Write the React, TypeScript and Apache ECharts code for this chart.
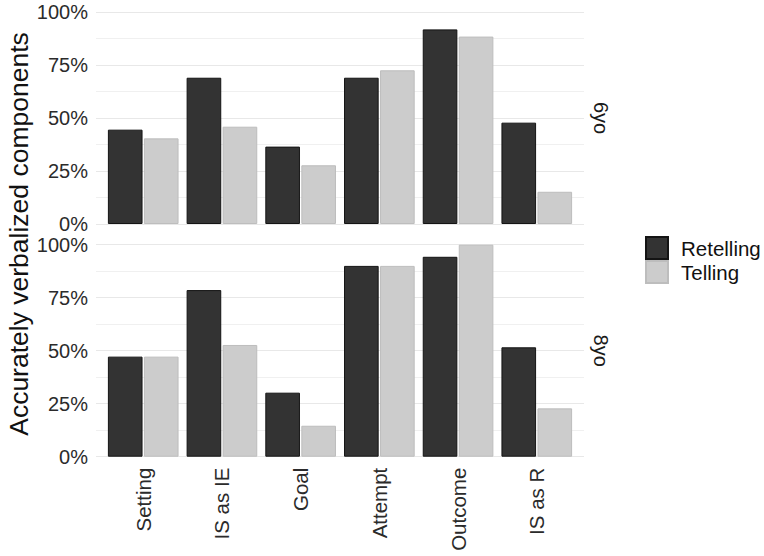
import React, { useEffect, useRef } from "react";
import * as echarts from "echarts";

const categories = ["Setting", "IS as IE", "Goal", "Attempt", "Outcome", "IS as R"];
const panels = ["6yo", "8yo"];
const seriesNames = ["Retelling", "Telling"];
const retelling6 = [0.445, 0.69, 0.365, 0.69, 0.918, 0.478];
const telling6 = [0.404, 0.459, 0.277, 0.725, 0.884, 0.152];
const retelling8 = [0.472, 0.786, 0.302, 0.9, 0.943, 0.516];
const telling8 = [0.472, 0.527, 0.146, 0.9, 1.0, 0.228];
const yTicks = [0, 0.25, 0.5, 0.75, 1];

const FONT = "'Liberation Sans', Arial, sans-serif";

export default function App() {
  const ref = useRef<HTMLDivElement>(null);
  useEffect(() => {
    if (!ref.current) return;
    const chart = echarts.init(ref.current, null, { renderer: "svg" });
    const panelLeft = 96;
    const panelWidth = 488;
    const unit = panelWidth / 6.2;
    const barLeft = panelLeft + 0.1 * unit;
    const barWidth = unit * 6;
    const tops = [12, 244.7];
    const h = 212;

    const grids: any[] = [];
    tops.forEach((t) =>
      grids.push({ left: panelLeft, top: t, width: panelWidth, height: h, containLabel: false, outerBoundsMode: "none" })
    );
    tops.forEach((t) =>
      grids.push({ left: barLeft, top: t, width: barWidth, height: h, containLabel: false, outerBoundsMode: "none" })
    );

    const xAxes: any[] = [];
    const yAxes: any[] = [];
    [0, 1].forEach((i) => {
      xAxes.push({ type: "value", gridIndex: i, min: 0, max: 1, show: false });
      yAxes.push({
        type: "value",
        gridIndex: i,
        min: yTicks[0],
        max: yTicks[yTicks.length - 1],
        interval: 0.25,
        axisLine: { show: false },
        axisTick: { show: false },
        axisLabel: {
          formatter: (v: number) => Math.round(v * 100) + "%",
          fontSize: 20,
          fontFamily: FONT,
          color: "#2b2b2b",
          margin: 8,
        },
        splitLine: { show: true, lineStyle: { color: "#e8e8e8", width: 1 } },
        minorTick: { show: false, splitNumber: 2 },
        minorSplitLine: { show: true, lineStyle: { color: "#f0f0f0", width: 1 } },
      });
    });
    [2, 3].forEach((i) => {
      xAxes.push({
        type: "category",
        gridIndex: i,
        data: categories,
        axisLine: { show: false },
        axisTick: { show: false },
        splitLine: { show: false },
        axisLabel:
          i === 3
            ? { show: true, rotate: 90, fontSize: 20.5, fontFamily: FONT, color: "#2b2b2b", margin: 11, interval: 0 }
            : { show: false },
      });
      yAxes.push({ type: "value", gridIndex: i, min: 0, max: 1, show: false, splitLine: { show: false } });
    });

    const styles = [
      { color: "#333333", borderColor: "#141414", borderWidth: 1 },
      { color: "#cccccc", borderColor: "#bdbdbd", borderWidth: 1 },
    ];
    const dataSets = [
      [retelling6, telling6],
      [retelling8, telling8],
    ];
    const series: any[] = [];
    dataSets.forEach((pair, p) => {
      pair.forEach((vals, s) => {
        series.push({
          type: "bar",
          name: seriesNames[s],
          xAxisIndex: 2 + p,
          yAxisIndex: 2 + p,
          data: vals,
          barWidth: "44%",
          barGap: "4%",
          itemStyle: styles[s],
          z: 3,
        });
      });
    });

    chart.setOption({
      animation: false,
      backgroundColor: "#ffffff",
      grid: grids,
      xAxis: xAxes,
      yAxis: yAxes,
      series,
      legend: {
        data: seriesNames,
        orient: "vertical",
        left: 640,
        top: 231,
        itemWidth: 22,
        itemHeight: 22,
        itemGap: 0,
        icon: "rect",
        textStyle: { fontSize: 20.5, fontFamily: FONT, color: "#111", padding: [0, 0, 0, 8], lineHeight: 22 },
      },
      graphic: [
        {
          type: "text",
          x: 19,
          y: 234,
          rotation: Math.PI / 2,
          style: {
            text: "Accurately verbalized components",
            fontSize: 26.5,
            fontFamily: FONT,
            fill: "#111",
            align: "center",
            verticalAlign: "middle",
          },
        },
        ...panels.map((label, i) => ({
          type: "text",
          x: 601,
          y: tops[i] + h / 2,
          rotation: -Math.PI / 2,
          style: {
            text: label,
            fontSize: 20,
            fontFamily: FONT,
            fill: "#1a1a1a",
            align: "center",
            verticalAlign: "middle",
          },
        })),
      ],
    });
    return () => chart.dispose();
  }, []);
  return (
    <div
      ref={ref}
      style={{ position: "fixed", left: 0, top: 0, width: 764, height: 556, background: "#fff" }}
    />
  );
}
